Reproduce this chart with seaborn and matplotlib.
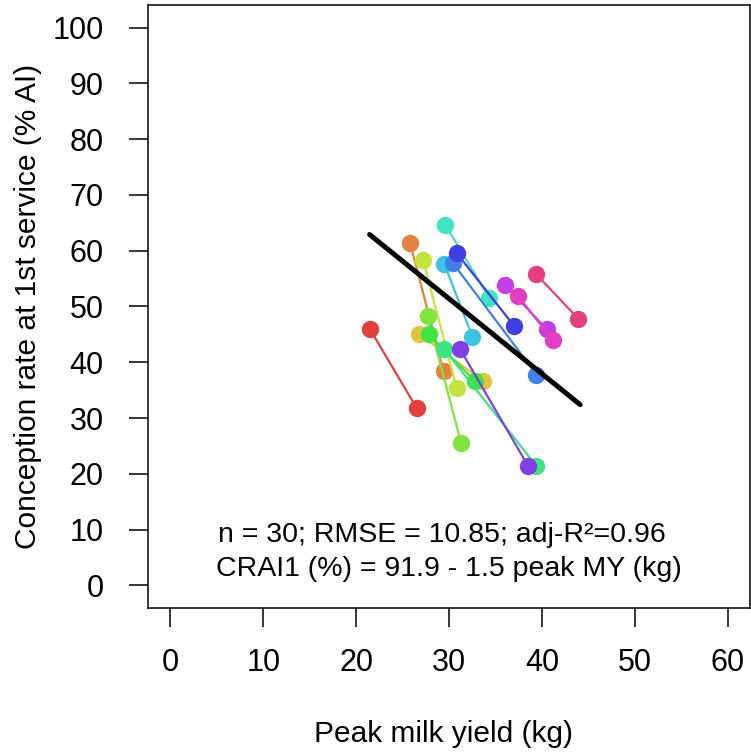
import numpy as np
import pandas as pd
import matplotlib
matplotlib.use("Agg")
import matplotlib.pyplot as plt
import seaborn as sns

# one pair of points (start -> end) per study, ordered by hue
my_start = [21.5, 25.8, 26.8, 27.2, 27.7, 27.8, 29.5, 29.6, 29.5, 30.4, 30.8, 31.2, 36.0, 37.4, 39.3]
my_end = [26.5, 29.4, 33.7, 30.8, 31.3, 32.8, 39.4, 34.3, 32.5, 39.4, 37.0, 38.5, 40.5, 41.2, 43.9]
cr_start = [45.9, 61.4, 45.0, 58.4, 48.3, 45.0, 42.3, 64.6, 57.6, 57.8, 59.6, 42.3, 53.9, 51.9, 55.9]
cr_end = [31.8, 38.4, 36.6, 35.4, 25.5, 36.6, 21.4, 51.6, 44.6, 37.8, 46.5, 21.4, 45.9, 43.9, 47.8]

# fitted line as drawn on the chart
fit_x = [21.45, 44.1]
fit_y = [62.9, 32.4]

stat_text = "n = 30; RMSE = 10.85; adj-R²=0.96"
eq_text = "CRAI1 (%) = 91.9 - 1.5 peak MY (kg)"

n = len(my_start)
df = pd.DataFrame({
    "pair": np.repeat(np.arange(n), 2),
    "my": np.ravel(np.column_stack([my_start, my_end])),
    "cr": np.ravel(np.column_stack([cr_start, cr_end])),
})

sns.set_theme(style="white")
plt.rcParams["font.family"] = ["Liberation Sans", "DejaVu Sans"]
plt.rcParams["text.color"] = "black"
plt.rcParams["axes.labelcolor"] = "black"

fig = plt.figure(figsize=(7.51, 7.53), dpi=100)
ax = fig.add_axes([0.197, 0.193, 0.802, 0.800])

pal = sns.hls_palette(n, h=0, l=0.57, s=0.75)
sns.lineplot(data=df, x="my", y="cr", hue="pair", palette=pal, units="pair",
             estimator=None, sort=False, marker="o", markersize=12.5,
             markeredgewidth=0, linewidth=1.6, legend=False, ax=ax)

sns.lineplot(x=fit_x, y=fit_y, color="black", linewidth=3.6, ax=ax)

ax.text(29.2, 9.1, stat_text, ha="center", va="center", fontsize=20.5)
ax.text(30, 3.0, eq_text, ha="center", va="center", fontsize=20.5)

ax.set_xlim(-2.4, 62.4)
ax.set_ylim(-4, 104)
ax.set_xticks(range(0, 61, 10))
ax.set_yticks(range(0, 101, 10))
ax.tick_params(axis="both", direction="out", length=14, width=1.1, colors="black",
               labelsize=22, bottom=True, left=True)
ax.tick_params(axis="x", pad=15)
ax.tick_params(axis="y", pad=18)
for s in ax.spines.values():
    s.set_color("black")
    s.set_linewidth(1.1)

ax.set_xlabel("Peak milk yield (kg)", fontsize=21.5)
ax.set_ylabel("Conception rate at 1st service (% AI)", fontsize=21.5)
ax.xaxis.set_label_coords(0.49, -0.21)
ax.xaxis.label.set_va("center")
ax.yaxis.set_label_coords(-0.199, 0.5)
ax.yaxis.label.set_va("center")

fig.savefig("out.png", dpi=100)
